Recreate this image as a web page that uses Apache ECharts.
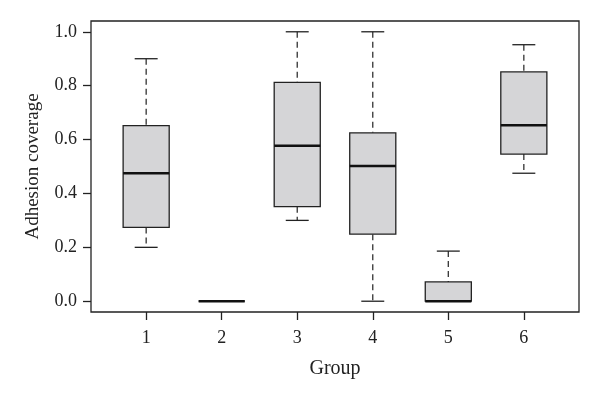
<!DOCTYPE html>
<html>
<head>
<meta charset="utf-8">
<script src="https://cdn.jsdelivr.net/npm/echarts@6/dist/echarts.min.js"></script>
<style>
  html, body { margin: 0; padding: 0; background: #fff; }
  #chart { width: 600px; height: 400px; }
</style>
</head>
<body>
<div id="chart"></div>
<script>
// box plot values
var groups = ['1', '2', '3', '4', '5', '6'];
var whiskerLow = [0.2, 0, 0.3, 0, 0, 0.475];
var q1 = [0.274, 0, 0.351, 0.249, 0, 0.546];
var median = [0.475, 0, 0.577, 0.502, 0, 0.653];
var q3 = [0.652, 0, 0.812, 0.625, 0.0715, 0.851];
var whiskerHigh = [0.9, 0, 1.0, 1.0, 0.186, 0.952];
var yTicks = [0, 0.2, 0.4, 0.6, 0.8, 1.0];

var ink = '#222';
var font = 'Liberation Serif';
var yRange = { min: -0.04, max: 1.04 };

var boxData = groups.map(function (g, i) {
    return [i, whiskerLow[i], q1[i], median[i], q3[i], whiskerHigh[i]];
});

function renderBox(params, api) {
    var x = api.value(0);
    var unit = api.size([1, 0])[0];
    var hw = unit * 0.305;
    var cw = unit * 0.152;
    var pLow = api.coord([x, api.value(1)]);
    var pQ1 = api.coord([x, api.value(2)]);
    var pMed = api.coord([x, api.value(3)]);
    var pQ3 = api.coord([x, api.value(4)]);
    var pHigh = api.coord([x, api.value(5)]);
    var cx = pMed[0];
    var dashed = { stroke: '#333', lineWidth: 1.3, lineDash: [6, 4] };
    var solid = { stroke: ink, lineWidth: 1.3 };
    return {
        type: 'group',
        children: [
            { type: 'line', shape: { x1: cx, y1: pHigh[1], x2: cx, y2: pQ3[1] }, style: dashed },
            { type: 'line', shape: { x1: cx, y1: pQ1[1], x2: cx, y2: pLow[1] }, style: dashed },
            { type: 'line', shape: { x1: cx - cw, y1: pHigh[1], x2: cx + cw, y2: pHigh[1] }, style: solid },
            { type: 'line', shape: { x1: cx - cw, y1: pLow[1], x2: cx + cw, y2: pLow[1] }, style: solid },
            {
                type: 'rect',
                shape: { x: cx - hw, y: pQ3[1], width: hw * 2, height: pQ1[1] - pQ3[1] },
                style: { fill: '#d5d5d7', stroke: ink, lineWidth: 1.3 }
            },
            { type: 'line', shape: { x1: cx - hw, y1: pMed[1], x2: cx + hw, y2: pMed[1] }, style: { stroke: '#111', lineWidth: 2.6 } }
        ]
    };
}

var chart = echarts.init(document.getElementById('chart'));
chart.setOption({
    backgroundColor: '#fff',
    animation: false,
    grid: [
        // outer frame
        { left: 91, right: 21, top: 21, bottom: 88, show: true, borderColor: ink, borderWidth: 1.3, backgroundColor: 'transparent' },
        // inner band area for the six groups
        { left: 108.4, right: 38.4, top: 21, bottom: 88 }
    ],
    xAxis: [
        { gridIndex: 0, type: 'value', min: 0, max: 1, show: false },
        {
            gridIndex: 1,
            type: 'category',
            data: groups,
            name: 'Group',
            nameLocation: 'middle',
            nameGap: 47,
            nameTextStyle: { fontFamily: font, fontSize: 20, color: ink },
            axisLine: { show: false, onZero: false },
            axisTick: { show: true, alignWithLabel: true, length: 8, lineStyle: { color: ink, width: 1.3 } },
            axisLabel: { margin: 17, fontFamily: font, fontSize: 18, color: ink },
            splitLine: { show: false }
        }
    ],
    yAxis: [
        {
            gridIndex: 0,
            type: 'value',
            min: yRange.min, max: yRange.max,
            name: 'Adhesion coverage',
            nameLocation: 'middle',
            nameGap: 48,
            nameTextStyle: { fontFamily: font, fontSize: 19, color: ink },
            axisLine: { show: false, onZero: false },
            splitLine: { show: false },
            axisTick: { show: true, length: 8, lineStyle: { color: ink, width: 1.3 }, customValues: yTicks },
            axisLabel: {
                customValues: yTicks, margin: 14, fontFamily: font, fontSize: 18, color: ink,
                formatter: function (v) { return v.toFixed(1); }
            }
        },
        { gridIndex: 1, type: 'value', min: yRange.min, max: yRange.max, show: false }
    ],
    series: [{
        type: 'custom',
        xAxisIndex: 1,
        yAxisIndex: 1,
        renderItem: renderBox,
        encode: { x: 0, y: [1, 2, 3, 4, 5] },
        data: boxData
    }]
});
</script>
</body>
</html>
